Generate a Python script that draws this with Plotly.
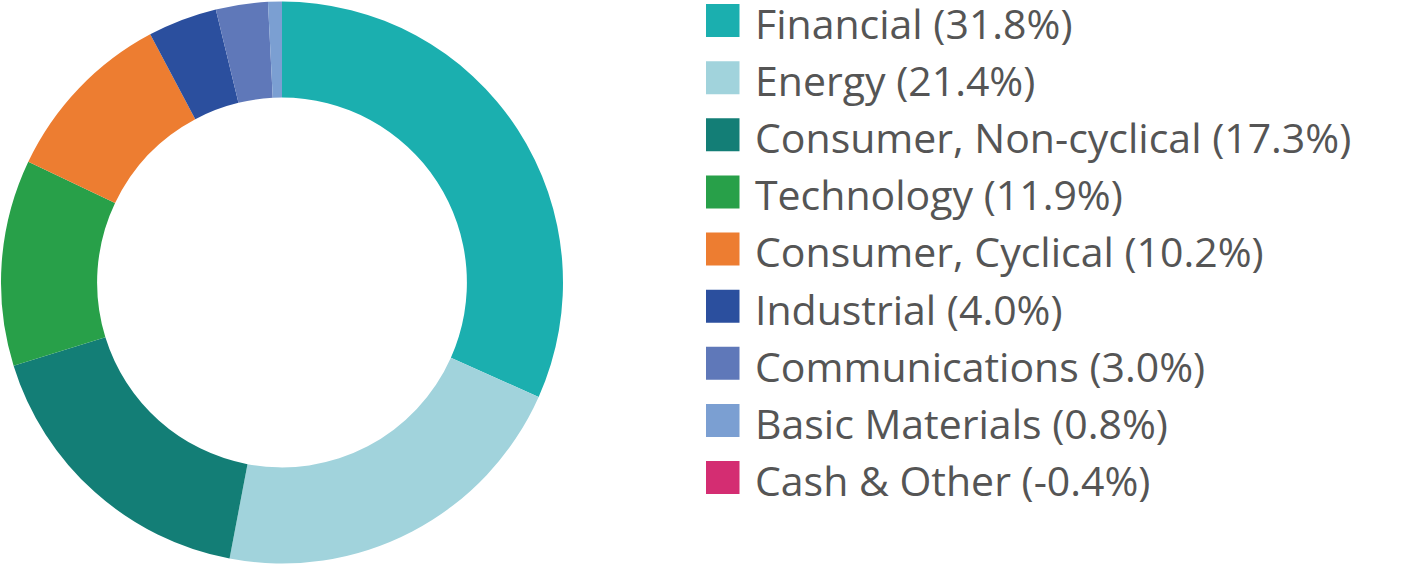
import plotly.graph_objects as go

W, H = 1427, 565

labels = ["Financial", "Energy", "Consumer, Non-cyclical", "Technology",
          "Consumer, Cyclical", "Industrial", "Communications",
          "Basic Materials", "Cash & Other"]
values = [31.8, 21.4, 17.3, 11.9, 10.2, 4.0, 3.0, 0.8, -0.4]
colors = ["#1BAFAF", "#A1D3DC", "#137E76", "#28A049", "#ED7D31",
          "#2B4F9E", "#5F78B9", "#7B9FD2", "#D42D72"]

pie_labels = [l for l, v in zip(labels, values) if v > 0]
pie_vals = [v for v in values if v > 0]
pie_cols = [c for c, v in zip(colors, values) if v > 0]

fig = go.Figure()
fig.add_trace(go.Pie(
    labels=pie_labels, values=pie_vals, hole=0.658, sort=False,
    direction="clockwise", rotation=0,
    marker=dict(colors=pie_cols, line=dict(width=0)),
    textinfo="none", showlegend=False,
    domain=dict(x=[1 / W, 563 / W], y=[0, 1]),
))

shapes, annos = [], []
row0, step = 20.5, 57.125
for i, (lab, v, c) in enumerate(zip(labels, values, colors)):
    yc = row0 + i * step
    shapes.append(dict(type="rect", xref="paper", yref="paper",
                       x0=706 / W, x1=739.5 / W,
                       y0=1 - (yc - 16.5) / H, y1=1 - (yc + 16.5) / H,
                       fillcolor=c, line=dict(width=0)))
    annos.append(dict(xref="paper", yref="paper", x=753 / W,
                      y=1 - (yc + 2.5) / H,
                      xanchor="left", yanchor="middle", showarrow=False,
                      text=f"{lab} ({v:.1f}%)",
                      font=dict(family="Open Sans", size=41, color="#555555")))

fig.update_layout(width=W, height=H, margin=dict(l=0, r=0, t=0, b=0),
                  paper_bgcolor="white", plot_bgcolor="white",
                  shapes=shapes, annotations=annos)
fig.write_html("out.html")
